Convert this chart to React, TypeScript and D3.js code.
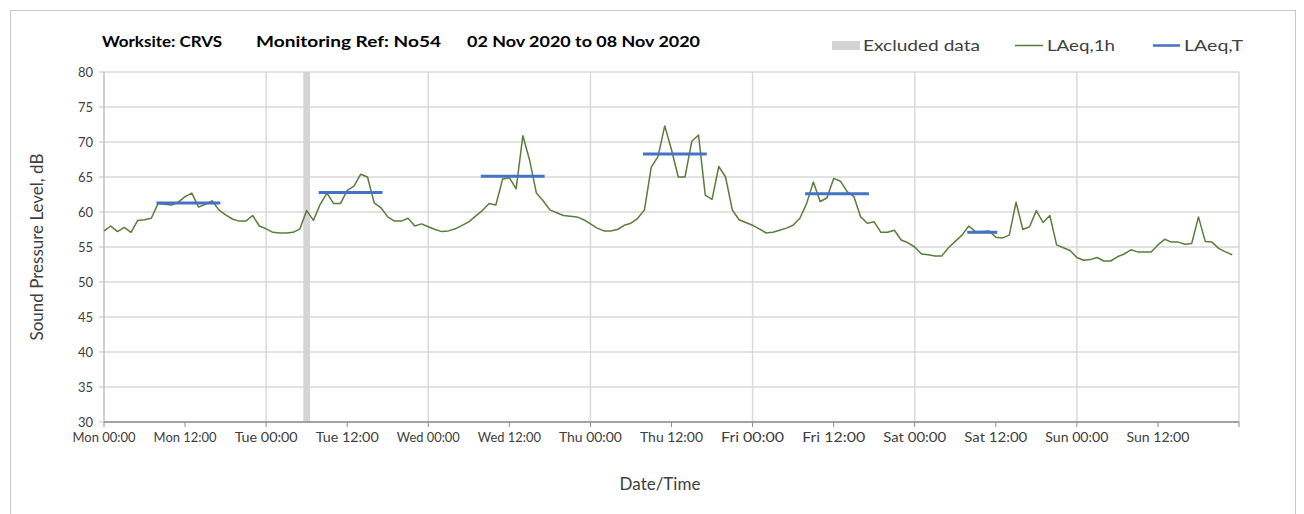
import React from "react";
import * as d3 from "d3";

// hourly LAeq,1h values from Mon 00:00 (hour 0) to Sun 23:00 (hour 167)
const laeq1h: number[] = [
  // Mon
  57.3, 58.0, 57.2, 57.8, 57.1, 58.8, 58.9, 59.1, 61.2, 61.1, 61.0, 61.4,
  62.2, 62.7, 60.7, 61.1, 61.6, 60.3, 59.6, 59.0, 58.7, 58.7, 59.5, 58.0,
  // Tue
  57.6, 57.1, 57.0, 57.0, 57.1, 57.6, 60.2, 58.8, 61.1, 62.7, 61.2, 61.2,
  63.1, 63.7, 65.4, 65.0, 61.3, 60.6, 59.3, 58.7, 58.7, 59.1, 58.0, 58.3,
  // Wed
  57.9, 57.5, 57.2, 57.3, 57.6, 58.1, 58.6, 59.4, 60.2, 61.2, 61.0, 64.7,
  64.9, 63.3, 70.9, 67.4, 62.7, 61.6, 60.3, 59.9, 59.5, 59.4, 59.3, 58.9,
  // Thu
  58.3, 57.7, 57.3, 57.3, 57.5, 58.1, 58.4, 59.1, 60.3, 66.4, 67.9, 72.3,
  68.9, 65.0, 65.0, 70.1, 71.0, 62.4, 61.8, 66.5, 65.0, 60.3, 58.9, 58.5,
  // Fri
  58.1, 57.6, 57.0, 57.1, 57.4, 57.7, 58.1, 59.1, 61.2, 64.3, 61.5, 62.0,
  64.8, 64.4, 62.9, 62.2, 59.3, 58.4, 58.6, 57.1, 57.1, 57.4, 56.0, 55.6,
  // Sat
  55.0, 54.0, 53.9, 53.7, 53.7, 54.9, 55.8, 56.7, 58.0, 57.2, 57.2, 57.3,
  56.4, 56.3, 56.7, 61.4, 57.5, 57.9, 60.2, 58.5, 59.5, 55.3, 54.9, 54.5,
  // Sun
  53.5, 53.1, 53.2, 53.5, 53.0, 53.0, 53.6, 54.0, 54.6, 54.3, 54.3, 54.3,
  55.3, 56.1, 55.7, 55.7, 55.4, 55.5, 59.3, 55.8, 55.7, 54.8, 54.3, 53.9,
];

// LAeq,T periods: start hour, end hour, level
const periodStart: number[] = [8, 32, 56, 80, 104, 128];
const periodEnd: number[] = [17, 41, 65, 89, 113, 132];
const periodLevel: number[] = [61.3, 62.8, 65.1, 68.3, 62.6, 57.1];

// Excluded data (hours)
const excludedStart: number[] = [29.5];
const excludedEnd: number[] = [30.5];

const xTickLabels: string[] = [
  "Mon 00:00", "Mon 12:00", "Tue 00:00", "Tue 12:00", "Wed 00:00", "Wed 12:00",
  "Thu 00:00", "Thu 12:00", "Fri 00:00", "Fri 12:00", "Sat 00:00", "Sat 12:00",
  "Sun 00:00", "Sun 12:00",
];
const yTicks: number[] = [30, 35, 40, 45, 50, 55, 60, 65, 70, 75, 80];

const W = 1304;
const H = 514;
const FONT = "Lato, 'Open Sans', sans-serif";
const TXT = "#404040";

export default function App() {
  const x = d3.scaleLinear().domain([0, 168]).range([104, 1239]);
  const y = d3.scaleLinear().domain([30, 80]).range([422, 72]);
  const line = d3
    .line<number>()
    .x((_, i) => x(i))
    .y((d) => y(d));
  const xTicks = d3.range(0, 169, 12);
  const dayLines = d3.range(24, 169, 24);

  return (
    <svg
      width={W}
      height={H}
      style={{ position: "absolute", left: 0, top: 0, background: "#fff" }}
      fontFamily={FONT}
    >
      <rect x={10.5} y={10.5} width={1285} height={520} fill="#fff" stroke="#c8c8c8" />

      {/* title */}
      <g fontWeight="bold" fontSize={15} fill="#000">
        <text x={102} y={47} textLength={120} lengthAdjust="spacingAndGlyphs">Worksite: CRVS</text>
        <text x={256} y={47} textLength={185} lengthAdjust="spacingAndGlyphs">Monitoring Ref: No54</text>
        <text x={467} y={47} textLength={233} lengthAdjust="spacingAndGlyphs">02 Nov 2020 to 08 Nov 2020</text>
      </g>

      {/* legend */}
      <g fontSize={16} fill={TXT}>
        <rect x={832} y={41} width={28} height={9} fill="#d4d4d4" />
        <text x={863} y={51} textLength={117} lengthAdjust="spacingAndGlyphs">Excluded data</text>
        <line x1={1015} x2={1043} y1={45.5} y2={45.5} stroke="#5a7d3c" strokeWidth={1.5} />
        <text x={1047} y={51} textLength={68} lengthAdjust="spacingAndGlyphs">LAeq,1h</text>
        <line x1={1153} x2={1180} y1={45.5} y2={45.5} stroke="#4472c4" strokeWidth={2.5} />
        <text x={1184} y={51} textLength={59} lengthAdjust="spacingAndGlyphs">LAeq,T</text>
      </g>

      {/* horizontal grid */}
      {yTicks.map((t) => (
        <line key={"hg" + t} x1={x(0)} x2={x(168)} y1={y(t)} y2={y(t)} stroke="#d9d9d9" strokeWidth={1.5} />
      ))}
      {/* vertical grid */}
      {dayLines.map((h) => (
        <line key={"vg" + h} x1={x(h)} x2={x(h)} y1={y(80)} y2={y(30)} stroke="#d9d9d9" strokeWidth={1.5} />
      ))}

      {/* excluded */}
      {excludedStart.map((s, i) => (
        <rect key={"ex" + i} x={x(s)} y={y(80)} width={x(excludedEnd[i]) - x(s)} height={y(30) - y(80)} fill="#d4d4d4" />
      ))}

      {/* y axis */}
      <line x1={x(0)} x2={x(0)} y1={y(80)} y2={y(30)} stroke="#bfbfbf" strokeWidth={1.5} />
      {yTicks.map((t) => (
        <g key={"yt" + t}>
          <line x1={x(0) - 5} x2={x(0)} y1={y(t)} y2={y(t)} stroke="#bfbfbf" />
          <text x={93} y={y(t) + 4.5} textAnchor="end" fontSize={13} fill={TXT}>
            {t}
          </text>
        </g>
      ))}

      {/* x axis */}
      <line x1={x(0)} x2={x(168)} y1={y(30)} y2={y(30)} stroke="#8c8c8c" strokeWidth={1.5} />
      {xTicks.map((h) => (
        <line key={"xt" + h} x1={x(h)} x2={x(h)} y1={y(30)} y2={y(30) + 5} stroke="#8c8c8c" />
      ))}
      {xTickLabels.map((lab, i) => (
        <text
          key={"xl" + i}
          x={x(xTicks[i])}
          y={442}
          textAnchor="middle"
          fontSize={13}
          fill={TXT}
          textLength={63}
          lengthAdjust="spacingAndGlyphs"
        >
          {lab}
        </text>
      ))}

      {/* data */}
      <path d={line(laeq1h) || ""} fill="none" stroke="#5a7d3c" strokeWidth={1.5} strokeLinejoin="round" />
      {periodStart.map((s, i) => (
        <line
          key={"p" + i}
          x1={x(s)}
          x2={x(periodEnd[i])}
          y1={y(periodLevel[i])}
          y2={y(periodLevel[i])}
          stroke="#4472c4"
          strokeWidth={3}
          strokeLinecap="square"
        />
      ))}

      {/* axis titles */}
      <text x={660} y={490} textAnchor="middle" fontSize={17} fill={TXT}>Date/Time</text>
      <text
        transform={`translate(43, ${(y(80) + y(30)) / 2}) rotate(-90)`}
        textAnchor="middle"
        fontSize={17}
        fill={TXT}
      >
        Sound Pressure Level, dB
      </text>
    </svg>
  );
}
